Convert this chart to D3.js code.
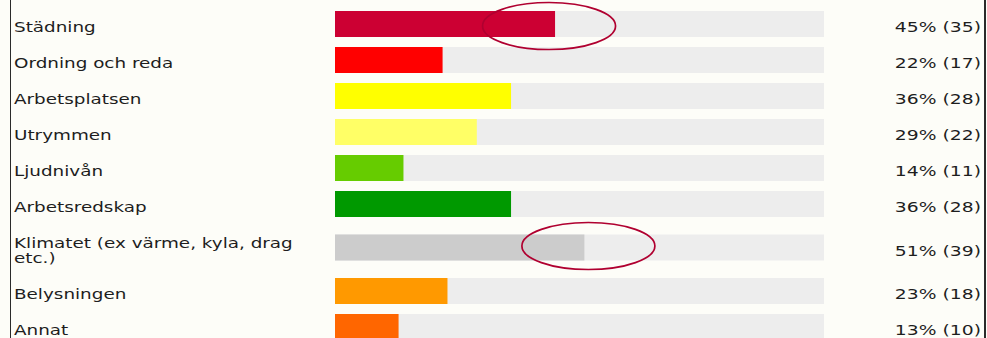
<!DOCTYPE html>
<html>
<head>
<meta charset="utf-8">
<script src="https://cdn.jsdelivr.net/npm/d3@7"></script>
<style>
  html, body { margin: 0; padding: 0; background: #fdfdf8; }
  svg { display: block; }
  text { font-family: "DejaVu Sans", Verdana, sans-serif; fill: #1e1e1e; }
</style>
</head>
<body>
<svg id="chart" width="987" height="338"></svg>
<script>
// Survey answers: share of respondents per area, with the count in parentheses
const categories = [
  "Städning",
  "Ordning och reda",
  "Arbetsplatsen",
  "Utrymmen",
  "Ljudnivån",
  "Arbetsredskap",
  "Klimatet (ex värme, kyla, drag etc.)",
  "Belysningen",
  "Annat"
];
const percents = [45, 22, 36, 29, 14, 36, 51, 23, 13];
const counts   = [35, 17, 28, 22, 11, 28, 39, 18, 10];
const barColors = ["#cc0033", "#ff0000", "#ffff00", "#ffff66", "#66cc00",
                   "#009900", "#cccccc", "#ff9900", "#ff6600"];
// Rows circled by hand
const circled = ["Städning", "Klimatet (ex värme, kyla, drag etc.)"];

const svg = d3.select("#chart");
const W = 987, H = 338;

const fontSize = 13.7;
const labelScaleX = 1.34;
const valueScaleX = 1.37;
const lineH = 16;
const rowH = 36;
const barH = 26;
const labelX = 14;
const labelMaxW = 318;

const x = d3.scaleLinear().domain([0, 100]).range([335, 824]);

// Wrap labels into lines that fit the label column
const measure = svg.append("text").attr("font-size", fontSize).attr("visibility", "hidden");
function wrap(str) {
  const words = str.split(" ");
  const lines = [];
  let cur = "";
  for (const w of words) {
    const t = cur ? cur + " " + w : w;
    measure.text(t);
    if (measure.node().getComputedTextLength() * labelScaleX > labelMaxW && cur) {
      lines.push(cur);
      cur = w;
    } else cur = t;
  }
  lines.push(cur);
  return lines;
}
const labelLines = categories.map(wrap);
measure.remove();

// Row heights grow with extra label lines
const rowHeights = labelLines.map(l => rowH + (l.length - 1) * (lineH - 1));
const rowTops = d3.cumsum([6, ...rowHeights]).slice(0, categories.length);
const rows = categories.map((c, i) => ({
  name: c, pct: percents[i], n: counts[i], color: barColors[i],
  lines: labelLines[i], top: rowTops[i], h: rowHeights[i],
  mid: rowTops[i] + rowHeights[i] / 2
}));

// Frame lines on the left and right
svg.append("line").attr("x1", 10.5).attr("x2", 10.5).attr("y1", 0).attr("y2", H)
  .attr("stroke", "#2a2a2a").attr("stroke-width", 1);
svg.append("line").attr("x1", 985).attr("x2", 985).attr("y1", 0).attr("y2", H)
  .attr("stroke", "#2a2a2a").attr("stroke-width", 2);

const g = svg.append("g");

// Full-width tracks
g.selectAll("rect.track").data(rows).join("rect")
  .attr("class", "track")
  .attr("x", x(0)).attr("width", x(100) - x(0))
  .attr("y", d => d.mid - barH / 2).attr("height", barH)
  .attr("fill", "#ededed");

// Value bars
g.selectAll("rect.bar").data(rows).join("rect")
  .attr("class", "bar")
  .attr("x", x(0)).attr("width", d => x(d.pct) - x(0))
  .attr("y", d => d.mid - barH / 2).attr("height", barH)
  .attr("fill", d => d.color);

// Category labels
const lab = g.selectAll("g.label").data(rows).join("g")
  .attr("class", "label")
  .attr("transform", d => `translate(${labelX},${d.mid + 8 - (d.lines.length - 1) * lineH / 2}) scale(${labelScaleX},1)`);
lab.selectAll("text").data(d => d.lines).join("text")
  .attr("font-size", fontSize)
  .attr("y", (l, j) => j * lineH)
  .text(l => l);

// Percent and count
g.selectAll("text.value").data(rows).join("text")
  .attr("class", "value")
  .attr("font-size", fontSize)
  .attr("text-anchor", "end")
  .attr("transform", d => `translate(981,${d.mid + 8}) scale(${valueScaleX},1)`)
  .text(d => `${d.pct}% (${d.n})`);

// Hand-drawn ovals around the ends of selected bars
const ovalOffset = { "Städning": [-6, 2], "Klimatet (ex värme, kyla, drag etc.)": [4, -1.5] };
g.selectAll("ellipse.mark").data(rows.filter(d => circled.includes(d.name))).join("ellipse")
  .attr("class", "mark")
  .attr("cx", d => x(d.pct) + ovalOffset[d.name][0])
  .attr("cy", d => d.mid + ovalOffset[d.name][1])
  .attr("rx", 66.5).attr("ry", 23.5)
  .attr("fill", "none")
  .attr("stroke", "#b00030")
  .attr("stroke-width", 1.7);
</script>
</body>
</html>
